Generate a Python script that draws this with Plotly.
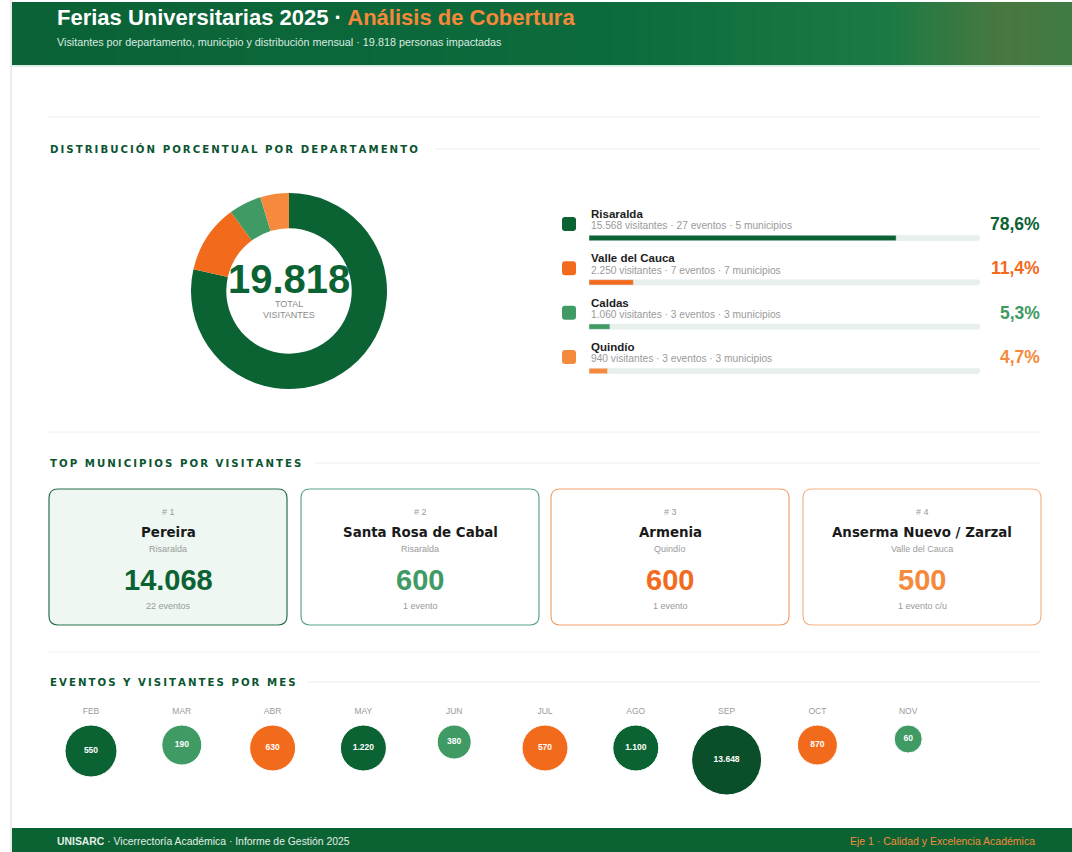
import plotly.graph_objects as go

W, H = 1072, 852

# departamentos
departamentos = ["Risaralda", "Valle del Cauca", "Caldas", "Quindío"]
visitantes_dep = [15568, 2250, 1060, 940]
eventos_dep = [27, 7, 3, 3]
municipios_dep = [5, 7, 3, 3]
total_visitantes = 19818

# top municipios
top_municipios = ["Pereira", "Santa Rosa de Cabal", "Armenia", "Anserma Nuevo / Zarzal"]
top_deptos = ["Risaralda", "Risaralda", "Quindío", "Valle del Cauca"]
top_visitantes = [14068, 600, 600, 500]
top_eventos = ["22 eventos", "1 evento", "1 evento", "1 evento c/u"]

# meses
meses = ["FEB", "MAR", "ABR", "MAY", "JUN", "JUL", "AGO", "SEP", "OCT", "NOV"]
visitantes_mes = [550, 190, 630, 1220, 380, 570, 1100, 13648, 870, 60]
eventos_mes = [5, 3, 4, 4, 2, 4, 4, 8, 3, 1]

DARK = "#0b6233"
MID = "#3f9a63"
ORANGE = "#f26b1d"
LORANGE = "#f58a3c"
dep_colors = [DARK, ORANGE, MID, LORANGE]
mes_colors = [DARK, MID, ORANGE, DARK, MID, ORANGE, DARK, "#0a4f2a", ORANGE, MID]
FONT = "Liberation Sans"
HEAVY = "DejaVu Sans"


def fmt(v):
    return f"{v:,}".replace(",", ".")


def X(px):
    return px / W


def Y(py):
    return 1 - py / H


def spaced(s):
    return "\u2009".join(s)


def rrect(x0, y0, x1, y1, r):
    rx, ry = r / W, r / H
    a, b, c, d = X(x0), Y(y0), X(x1), Y(y1)
    return (f"M {a+rx},{b} L {c-rx},{b} Q {c},{b} {c},{b-ry} L {c},{d+ry} "
            f"Q {c},{d} {c-rx},{d} L {a+rx},{d} Q {a},{d} {a},{d+ry} "
            f"L {a},{b-ry} Q {a},{b} {a+rx},{b} Z")


def hexmix(c1, c2, t):
    p = [int(c1[i:i+2], 16) for i in (1, 3, 5)]
    q = [int(c2[i:i+2], 16) for i in (1, 3, 5)]
    return "#" + "".join(f"{round(p[k] + (q[k]-p[k])*t):02x}" for k in range(3))


shapes = []
ann = []


def text(x, y, s, size, color, anchor="left", bold=False, family=FONT):
    ann.append(dict(x=X(x), y=Y(y), xref="paper", yref="paper", text=f"<b>{s}</b>" if bold else s,
                    showarrow=False, xanchor=anchor, yanchor="middle",
                    font=dict(size=size, color=color, family=family)))


# header gradient band
stops = [(12, "#0a6236"), (600, "#0c6b3c"), (880, "#1a7944"), (1000, "#4a7840"), (1072, "#3f7b45")]
step = 8
for px in range(12, 1072, step):
    for (a, ca), (b, cb) in zip(stops, stops[1:]):
        if a <= px < b:
            col = hexmix(ca, cb, (px - a) / (b - a))
    shapes.append(dict(type="rect", xref="paper", yref="paper", x0=X(px), x1=X(min(px + step + 1, 1072)),
                       y0=Y(65), y1=Y(2), fillcolor=col, line_width=0, layer="below"))
shapes.append(dict(type="line", xref="paper", yref="paper", x0=X(12), x1=X(1072), y0=Y(66), y1=Y(66),
                   line=dict(color="#cfe9df", width=1.5)))
# left page edge
shapes.append(dict(type="line", xref="paper", yref="paper", x0=X(11), x1=X(11), y0=0, y1=1,
                   line=dict(color="#d9d9d9", width=1)))
# footer
shapes.append(dict(type="rect", xref="paper", yref="paper", x0=X(12), x1=1, y0=0, y1=Y(828),
                   fillcolor="#0b6233", line_width=0, layer="below"))

text(55, 17, "Ferias Universitarias 2025 · <span style='color:#f5883a'>Análisis de Cobertura</span>",
     22, "white", bold=True)
text(55, 42, "Visitantes por departamento, municipio y distribución mensual · "
     f"{fmt(total_visitantes)} personas impactadas", 10.8, "#dbeae0")

# separators and section titles
for yy in (117, 432, 652):
    shapes.append(dict(type="line", xref="paper", yref="paper", x0=X(48), x1=X(1040), y0=Y(yy), y1=Y(yy),
                       line=dict(color="#eeeeee", width=1)))
for yy, s, xend in ((149, "DISTRIBUCIÓN PORCENTUAL POR DEPARTAMENTO", 435),
                    (463, "TOP MUNICIPIOS POR VISITANTES", 315),
                    (682, "EVENTOS Y VISITANTES POR MES", 307)):
    text(48, yy, spaced(s), 10.2, "#0a5530", bold=True, family=HEAVY)
    shapes.append(dict(type="line", xref="paper", yref="paper", x0=X(xend), x1=X(1040), y0=Y(yy), y1=Y(yy),
                       line=dict(color="#ececec", width=1)))

fig = go.Figure()

# donut
cx, cy, R = 289, 291, 98
fig.add_trace(go.Pie(labels=departamentos, values=visitantes_dep, hole=0.64, sort=False,
                     direction="clockwise", rotation=0, marker=dict(colors=dep_colors, line=dict(width=0)),
                     textinfo="none", showlegend=False,
                     domain=dict(x=[X(cx - R), X(cx + R)], y=[Y(cy + R), Y(cy - R)])))
text(cx, 279, fmt(total_visitantes), 40, DARK, anchor="center", bold=True)
text(cx, 304, "TOTAL", 9, "#8a8a8a", anchor="center")
text(cx, 315, "VISITANTES", 9, "#8a8a8a", anchor="center")

# legend rows with progress bars
pct = [v / total_visitantes * 100 for v in visitantes_dep]
row0, gap = 238, 44.33
fig.add_trace(go.Bar(y=list(range(4)), x=[100] * 4, orientation="h", width=0.12,
                     marker=dict(color="#e7f0eb", cornerradius=3), showlegend=False, hoverinfo="skip"))
fig.add_trace(go.Bar(y=list(range(4)), x=pct, orientation="h", width=0.12,
                     marker=dict(color=dep_colors, cornerradius=3), showlegend=False))
for i, d in enumerate(departamentos):
    by = row0 + gap * i
    shapes.append(dict(type="path", xref="paper", yref="paper", path=rrect(562, by - 21, 576, by - 7, 3),
                       fillcolor=dep_colors[i], line_width=0))
    text(589, by - 24, d, 11.5, "#1d1d1d", bold=True)
    text(589, by - 12, f"{fmt(visitantes_dep[i])} visitantes · {eventos_dep[i]} eventos · "
         f"{municipios_dep[i]} municipios", 10.2, "#9a9a9a")
    text(1042, by - 14, f"{pct[i]:.1f}%".replace(".", ","), 17.5, dep_colors[i], anchor="right", bold=True)

# cards
card_x = [49, 301, 551, 803]
card_w = 238
card_fill = ["#eef7f2", "white", "white", "white"]
card_line = ["#2a6e4a", "#5ea585", "#f0a26e", "#f4b486"]
card_val = [DARK, MID, ORANGE, LORANGE]
for i in range(4):
    x0 = card_x[i]
    shapes.append(dict(type="path", xref="paper", yref="paper", path=rrect(x0, 489, x0 + card_w, 625, 9),
                       fillcolor=card_fill[i], line=dict(color=card_line[i], width=1.2)))
    xc = x0 + card_w / 2
    text(xc, 512, f"# {i + 1}", 9, "#9a9a9a", anchor="center")
    text(xc, 532, top_municipios[i], 13.4, "#1a1a1a", anchor="center", bold=True, family=HEAVY)
    text(xc, 549, top_deptos[i], 9, "#9a9a9a", anchor="center")
    text(xc, 580, fmt(top_visitantes[i]), 29, card_val[i], anchor="center", bold=True)
    text(xc, 606, top_eventos[i], 9, "#9a9a9a", anchor="center")

# bubbles by month
diam = [22 + 6 * e for e in eventos_mes]
cy_b = [25 + d / 2 for d in diam]
fig.add_trace(go.Scatter(x=list(range(10)), y=[12] * 10, mode="text", text=meses, xaxis="x2", yaxis="y2",
                         textfont=dict(size=8.5, color="#9a9a9a", family=FONT), showlegend=False,
                         hoverinfo="skip"))
fig.add_trace(go.Scatter(x=list(range(10)), y=cy_b, mode="markers+text", xaxis="x2", yaxis="y2",
                         text=[f"<b>{fmt(v)}</b>" for v in visitantes_mes], textposition="middle center",
                         textfont=dict(size=8.5, color="white", family=FONT),
                         marker=dict(size=diam, sizemode="diameter", color=mes_colors,
                                     line=dict(color="white", width=1), opacity=1),
                         showlegend=False))

sp = 90.8
fig.update_layout(
    width=W, height=H, margin=dict(l=0, r=0, t=0, b=0),
    paper_bgcolor="white", plot_bgcolor="rgba(0,0,0,0)",
    barmode="overlay", shapes=shapes,
    font=dict(family=FONT),
    xaxis=dict(domain=[X(589), X(980)], range=[0, 100], visible=False, fixedrange=True),
    yaxis=dict(domain=[Y(row0 + 3 * gap + gap / 2), Y(row0 - gap / 2)], range=[3.5, -0.5],
               visible=False, fixedrange=True),
    xaxis2=dict(domain=[X(91 - sp / 2), X(91 + 9.5 * sp)], range=[-0.5, 9.5], visible=False,
                anchor="y2", fixedrange=True),
    yaxis2=dict(domain=[Y(800), Y(700)], range=[100, 0], visible=False, anchor="x2", fixedrange=True),
)

text(55, 841, "<b>UNISARC</b> · Vicerrectoría Académica · Informe de Gestión 2025", 10.4, "#e3efe7")
text(1037, 841, "Eje 1 · Calidad y Excelencia Académica", 10.5, LORANGE, anchor="right")
fig.update_layout(annotations=ann)

fig.write_html("out.html", config={"displayModeBar": False},
               post_script="document.body.style.margin='0';")
